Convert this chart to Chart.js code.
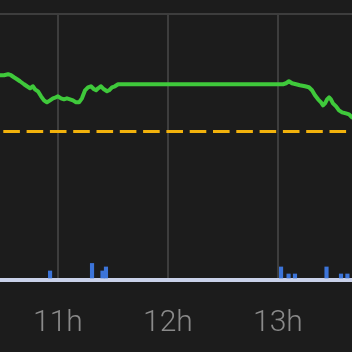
<!DOCTYPE html>
<html>
<head>
<meta charset="utf-8">
<script src="https://cdn.jsdelivr.net/npm/chart.js@4"></script>
<style>
html,body{margin:0;padding:0;background:#1c1c1c;}
#wrap{width:352px;height:352px;}
</style>
</head>
<body>
<div id="wrap"><canvas id="c" width="352" height="352"></canvas></div>
<script>
// time in minutes since midnight
const X_MIN = 628.4;
const X_MAX = 820.4;
const Y_MIN = -2;
const Y_MAX = 263;
const TICK_VALUES = [660, 720, 780];
const TICK_LABELS = ['11h', '12h', '13h'];

const LINE_TIMES = [628.4,630.6,632.8,634.4,636.0,637.7,639.3,641.5,643.1,644.8,646.4,647.5,649.1,650.8,652.4,654.0,655.7,657.3,658.9,660.0,661.7,663.3,664.9,666.6,668.2,669.9,671.5,673.1,674.8,676.4,678.0,679.7,680.8,681.9,683.5,685.1,686.8,687.9,689.5,691.1,692.8,694.4,782.8,784.4,786.0,787.7,789.9,792.0,794.8,796.9,798.6,800.2,801.9,803.5,804.6,805.7,806.8,807.9,808.9,810.0,811.7,813.3,815.0,817.1,818.8,820.4];
const LINE_VALUES = [202,202,203,202,200,198,196,193,191,189,191,188,186,181,177,175,177,179,180,181,179,178,179,178,177,175,175,179,187,190,191,188,187,189,191,188,186,187,190,191,193,193,193,194,196,194,193,192,191,190,187,182,178,175,172,174,178,180,178,174,171,167,165,164,163,160];

const THRESHOLD = 146;

const BAR_TIMES = [655.7,678.6,684.3,686.2,781.7,785.8,789.3,806.5,814.4,817.9];
const BAR_VALUES = [7,14.5,7,11,11,4,4,11,4,4];

const lineData = LINE_TIMES.map((t, i) => ({x: t, y: LINE_VALUES[i]}));
const barData = BAR_TIMES.map((t, i) => ({x: t, y: BAR_VALUES[i]}));
const thresholdData = [{x: X_MIN, y: THRESHOLD}, {x: X_MAX, y: THRESHOLD}];

const FONT = "Roboto, 'Liberation Sans', sans-serif";

new Chart(document.getElementById('c'), {
  data: {
    datasets: [
      {
        type: 'line',
        data: thresholdData,
        borderColor: '#f2b20c',
        borderWidth: 3,
        borderDash: [16.6, 6.7],
        borderDashOffset: 20,
        pointRadius: 0,
        tension: 0,
        fill: false,
        order: 3
      },
      {
        type: 'line',
        data: lineData,
        borderColor: '#3fc93b',
        borderWidth: 4,
        borderJoinStyle: 'round',
        borderCapStyle: 'round',
        pointRadius: 0,
        tension: 0,
        fill: false,
        order: 1
      },
      {
        type: 'bar',
        data: barData,
        backgroundColor: '#3c74d9',
        borderWidth: 0,
        barThickness: 3.5,
        order: 2
      }
    ]
  },
  options: {
    responsive: false,
    animation: false,
    events: [],
    layout: {autoPadding: false, padding: {top: 14, bottom: -14, left: 0, right: 0}},
    plugins: {legend: {display: false}, tooltip: {enabled: false}},
    scales: {
      x: {
        type: 'linear',
        min: X_MIN,
        max: X_MAX,
        offset: false,
        afterBuildTicks: s => { s.ticks = TICK_VALUES.map(v => ({value: v})); },
        grid: {color: '#3d3d3d', lineWidth: 2, drawTicks: false, offset: false},
        border: {display: true, color: '#c9d1ea', width: 4},
        ticks: {
          callback: (v, i) => TICK_LABELS[i],
          color: '#8a8a8a',
          font: {family: FONT, size: 30, weight: '300'},
          padding: 25,
          maxRotation: 0,
          autoSkip: false
        }
      },
      y: {
        type: 'linear',
        min: Y_MIN,
        max: Y_MAX,
        afterBuildTicks: s => { s.ticks = [{value: Y_MAX}]; },
        grid: {color: '#3d3d3d', lineWidth: 2, drawTicks: false},
        border: {display: false},
        ticks: {display: false}
      }
    }
  }
});
</script>
</body>
</html>
